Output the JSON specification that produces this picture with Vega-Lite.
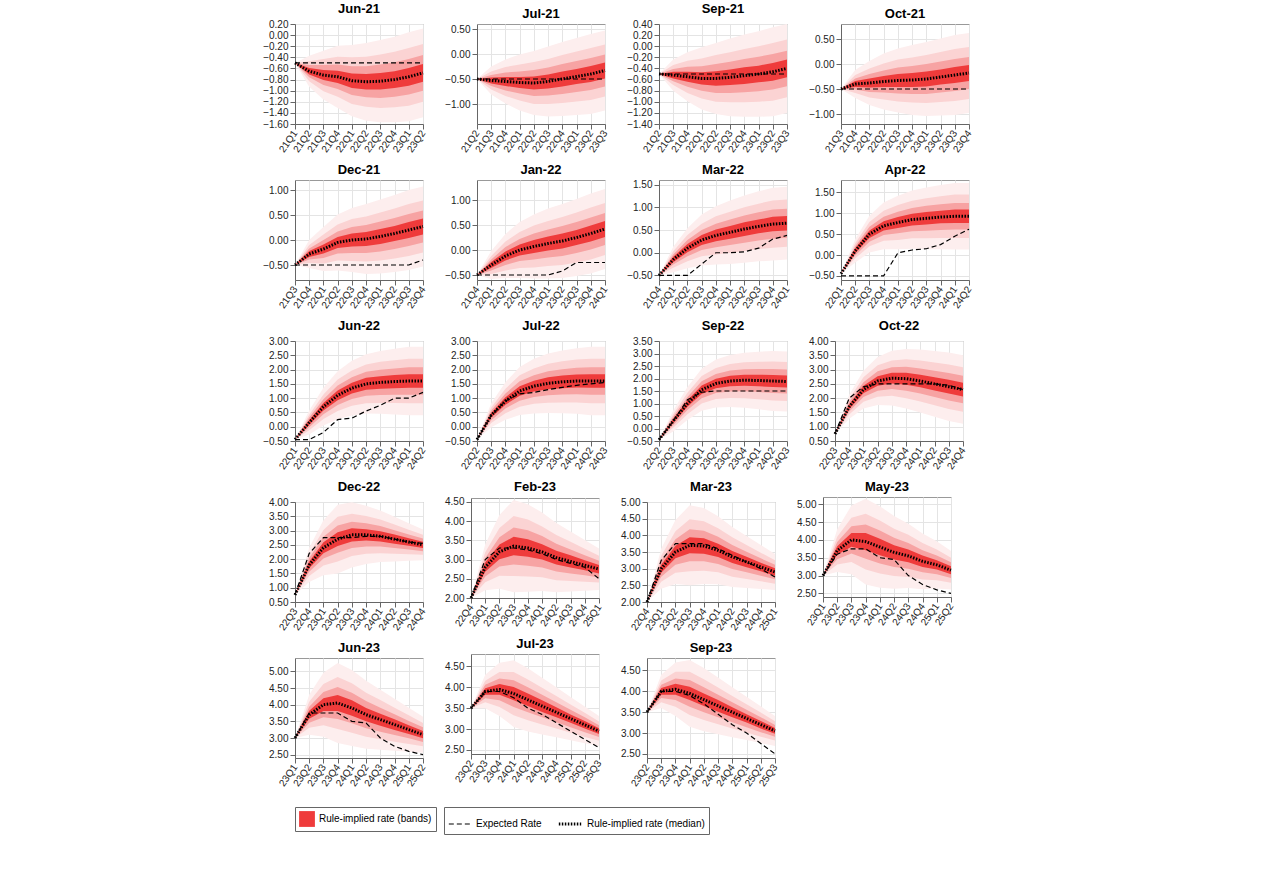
{
  "$schema": "https://vega.github.io/schema/vega-lite/v6.json",
  "padding": {"left": 262, "top": 2, "right": 10, "bottom": 5},
  "config": {
    "font": "Liberation Sans",
    "view": {"stroke": "#999"},
    "axis": {"labelFontSize": 10, "labelColor": "#222", "gridColor": "#e4e4e4", "domainColor": "#666", "tickColor": "#666", "title": null},
    "header": {"labelFontSize": 13, "labelFontWeight": "bold", "labelPadding": 3},
    "legend": {"orient": "bottom", "direction": "horizontal", "labelFontSize": 10, "title": null, "strokeColor": "#666", "padding": 4, "symbolSize": 300}
  },
  "data": {"values": [
    {"p":"Jun-21","o":1,"q":"21Q1","m":-0.5,"e":-0.5,"a4":-0.5,"a3":-0.5,"a2":-0.5,"a1":-0.5,"b1":-0.5,"b2":-0.5,"b3":-0.5,"b4":-0.5},
    {"p":"Jun-21","o":1,"q":"21Q2","m":-0.65,"e":-0.5,"a4":-0.93,"a3":-0.83,"a2":-0.76,"a1":-0.71,"b1":-0.59,"b2":-0.54,"b3":-0.47,"b4":-0.37},
    {"p":"Jun-21","o":1,"q":"21Q3","m":-0.72,"e":-0.5,"a4":-1.16,"a3":-1.01,"a2":-0.9,"a1":-0.81,"b1":-0.63,"b2":-0.54,"b3":-0.43,"b4":-0.28},
    {"p":"Jun-21","o":1,"q":"21Q4","m":-0.75,"e":-0.5,"a4":-1.31,"a3":-1.11,"a2":-0.97,"a1":-0.86,"b1":-0.64,"b2":-0.53,"b3":-0.39,"b4":-0.19},
    {"p":"Jun-21","o":1,"q":"22Q1","m":-0.82,"e":-0.5,"a4":-1.46,"a3":-1.24,"a2":-1.08,"a1":-0.95,"b1":-0.69,"b2":-0.56,"b3":-0.4,"b4":-0.18},
    {"p":"Jun-21","o":1,"q":"22Q2","m":-0.84,"e":-0.5,"a4":-1.54,"a3":-1.29,"a2":-1.12,"a1":-0.98,"b1":-0.7,"b2":-0.56,"b3":-0.39,"b4":-0.14},
    {"p":"Jun-21","o":1,"q":"22Q3","m":-0.83,"e":-0.5,"a4":-1.57,"a3":-1.31,"a2":-1.13,"a1":-0.98,"b1":-0.68,"b2":-0.53,"b3":-0.35,"b4":-0.09},
    {"p":"Jun-21","o":1,"q":"22Q4","m":-0.8,"e":-0.5,"a4":-1.57,"a3":-1.3,"a2":-1.11,"a1":-0.95,"b1":-0.65,"b2":-0.49,"b3":-0.3,"b4":-0.03},
    {"p":"Jun-21","o":1,"q":"23Q1","m":-0.75,"e":-0.5,"a4":-1.55,"a3":-1.27,"a2":-1.07,"a1":-0.91,"b1":-0.59,"b2":-0.43,"b3":-0.23,"b4":0.05},
    {"p":"Jun-21","o":1,"q":"23Q2","m":-0.68,"e":-0.5,"a4":-1.48,"a3":-1.2,"a2":-1.0,"a1":-0.84,"b1":-0.52,"b2":-0.36,"b3":-0.16,"b4":0.12},

    {"p":"Jul-21","o":2,"q":"21Q2","m":-0.5,"e":-0.5,"a4":-0.5,"a3":-0.5,"a2":-0.5,"a1":-0.5,"b1":-0.5,"b2":-0.5,"b3":-0.5,"b4":-0.5},
    {"p":"Jul-21","o":2,"q":"21Q3","m":-0.53,"e":-0.5,"a4":-0.81,"a3":-0.71,"a2":-0.64,"a1":-0.59,"b1":-0.47,"b2":-0.42,"b3":-0.35,"b4":-0.25},
    {"p":"Jul-21","o":2,"q":"21Q4","m":-0.55,"e":-0.5,"a4":-0.99,"a3":-0.84,"a2":-0.73,"a1":-0.64,"b1":-0.46,"b2":-0.37,"b3":-0.26,"b4":-0.11},
    {"p":"Jul-21","o":2,"q":"22Q1","m":-0.57,"e":-0.5,"a4":-1.13,"a3":-0.93,"a2":-0.79,"a1":-0.68,"b1":-0.46,"b2":-0.35,"b3":-0.21,"b4":-0.01},
    {"p":"Jul-21","o":2,"q":"22Q2","m":-0.58,"e":-0.5,"a4":-1.22,"a3":-1.0,"a2":-0.84,"a1":-0.71,"b1":-0.45,"b2":-0.32,"b3":-0.16,"b4":0.06},
    {"p":"Jul-21","o":2,"q":"22Q3","m":-0.55,"e":-0.5,"a4":-1.25,"a3":-1.0,"a2":-0.83,"a1":-0.69,"b1":-0.41,"b2":-0.27,"b3":-0.1,"b4":0.15},
    {"p":"Jul-21","o":2,"q":"22Q4","m":-0.5,"e":-0.5,"a4":-1.24,"a3":-0.98,"a2":-0.8,"a1":-0.65,"b1":-0.35,"b2":-0.2,"b3":-0.02,"b4":0.24},
    {"p":"Jul-21","o":2,"q":"23Q1","m":-0.45,"e":-0.5,"a4":-1.22,"a3":-0.95,"a2":-0.76,"a1":-0.6,"b1":-0.3,"b2":-0.14,"b3":0.05,"b4":0.32},
    {"p":"Jul-21","o":2,"q":"23Q2","m":-0.4,"e":-0.5,"a4":-1.2,"a3":-0.92,"a2":-0.72,"a1":-0.56,"b1":-0.24,"b2":-0.08,"b3":0.12,"b4":0.4},
    {"p":"Jul-21","o":2,"q":"23Q3","m":-0.33,"e":-0.5,"a4":-1.13,"a3":-0.85,"a2":-0.65,"a1":-0.49,"b1":-0.17,"b2":-0.01,"b3":0.19,"b4":0.47},

    {"p":"Sep-21","o":3,"q":"21Q2","m":-0.5,"e":-0.5,"a4":-0.5,"a3":-0.5,"a2":-0.5,"a1":-0.5,"b1":-0.5,"b2":-0.5,"b3":-0.5,"b4":-0.5},
    {"p":"Sep-21","o":3,"q":"21Q3","m":-0.52,"e":-0.5,"a4":-0.8,"a3":-0.7,"a2":-0.63,"a1":-0.58,"b1":-0.46,"b2":-0.41,"b3":-0.34,"b4":-0.24},
    {"p":"Sep-21","o":3,"q":"21Q4","m":-0.55,"e":-0.5,"a4":-0.99,"a3":-0.84,"a2":-0.73,"a1":-0.64,"b1":-0.46,"b2":-0.37,"b3":-0.26,"b4":-0.11},
    {"p":"Sep-21","o":3,"q":"22Q1","m":-0.58,"e":-0.5,"a4":-1.14,"a3":-0.94,"a2":-0.8,"a1":-0.69,"b1":-0.47,"b2":-0.36,"b3":-0.22,"b4":-0.02},
    {"p":"Sep-21","o":3,"q":"22Q2","m":-0.58,"e":-0.5,"a4":-1.22,"a3":-1.0,"a2":-0.84,"a1":-0.71,"b1":-0.45,"b2":-0.32,"b3":-0.16,"b4":0.06},
    {"p":"Sep-21","o":3,"q":"22Q3","m":-0.56,"e":-0.5,"a4":-1.26,"a3":-1.01,"a2":-0.84,"a1":-0.7,"b1":-0.42,"b2":-0.28,"b3":-0.11,"b4":0.14},
    {"p":"Sep-21","o":3,"q":"22Q4","m":-0.53,"e":-0.5,"a4":-1.27,"a3":-1.01,"a2":-0.83,"a1":-0.68,"b1":-0.38,"b2":-0.23,"b3":-0.05,"b4":0.21},
    {"p":"Sep-21","o":3,"q":"23Q1","m":-0.5,"e":-0.5,"a4":-1.27,"a3":-1.0,"a2":-0.81,"a1":-0.65,"b1":-0.35,"b2":-0.19,"b3":0.0,"b4":0.27},
    {"p":"Sep-21","o":3,"q":"23Q2","m":-0.46,"e":-0.5,"a4":-1.26,"a3":-0.98,"a2":-0.78,"a1":-0.62,"b1":-0.3,"b2":-0.14,"b3":0.06,"b4":0.34},
    {"p":"Sep-21","o":3,"q":"23Q3","m":-0.4,"e":-0.5,"a4":-1.2,"a3":-0.92,"a2":-0.72,"a1":-0.56,"b1":-0.24,"b2":-0.08,"b3":0.12,"b4":0.4},

    {"p":"Oct-21","o":4,"q":"21Q3","m":-0.5,"e":-0.5,"a4":-0.5,"a3":-0.5,"a2":-0.5,"a1":-0.5,"b1":-0.5,"b2":-0.5,"b3":-0.5,"b4":-0.5},
    {"p":"Oct-21","o":4,"q":"21Q4","m":-0.4,"e":-0.5,"a4":-0.68,"a3":-0.58,"a2":-0.51,"a1":-0.46,"b1":-0.34,"b2":-0.29,"b3":-0.22,"b4":-0.12},
    {"p":"Oct-21","o":4,"q":"22Q1","m":-0.38,"e":-0.5,"a4":-0.82,"a3":-0.67,"a2":-0.56,"a1":-0.47,"b1":-0.29,"b2":-0.2,"b3":-0.09,"b4":0.06},
    {"p":"Oct-21","o":4,"q":"22Q2","m":-0.35,"e":-0.5,"a4":-0.91,"a3":-0.71,"a2":-0.57,"a1":-0.46,"b1":-0.24,"b2":-0.13,"b3":0.01,"b4":0.21},
    {"p":"Oct-21","o":4,"q":"22Q3","m":-0.33,"e":-0.5,"a4":-0.97,"a3":-0.75,"a2":-0.59,"a1":-0.46,"b1":-0.2,"b2":-0.07,"b3":0.09,"b4":0.31},
    {"p":"Oct-21","o":4,"q":"22Q4","m":-0.32,"e":-0.5,"a4":-1.02,"a3":-0.77,"a2":-0.6,"a1":-0.46,"b1":-0.18,"b2":-0.04,"b3":0.13,"b4":0.38},
    {"p":"Oct-21","o":4,"q":"23Q1","m":-0.3,"e":-0.5,"a4":-1.04,"a3":-0.78,"a2":-0.6,"a1":-0.45,"b1":-0.15,"b2":0.0,"b3":0.18,"b4":0.44},
    {"p":"Oct-21","o":4,"q":"23Q2","m":-0.26,"e":-0.5,"a4":-1.03,"a3":-0.76,"a2":-0.57,"a1":-0.41,"b1":-0.11,"b2":0.05,"b3":0.24,"b4":0.51},
    {"p":"Oct-21","o":4,"q":"23Q3","m":-0.22,"e":-0.5,"a4":-1.02,"a3":-0.74,"a2":-0.54,"a1":-0.38,"b1":-0.06,"b2":0.1,"b3":0.3,"b4":0.58},
    {"p":"Oct-21","o":4,"q":"23Q4","m":-0.18,"e":-0.5,"a4":-0.98,"a3":-0.7,"a2":-0.5,"a1":-0.34,"b1":-0.02,"b2":0.14,"b3":0.34,"b4":0.62},

    {"p":"Dec-21","o":5,"q":"21Q3","m":-0.5,"e":-0.5,"a4":-0.5,"a3":-0.5,"a2":-0.5,"a1":-0.5,"b1":-0.5,"b2":-0.5,"b3":-0.5,"b4":-0.5},
    {"p":"Dec-21","o":5,"q":"21Q4","m":-0.28,"e":-0.5,"a4":-0.56,"a3":-0.46,"a2":-0.39,"a1":-0.34,"b1":-0.22,"b2":-0.17,"b3":-0.1,"b4":0.0},
    {"p":"Dec-21","o":5,"q":"22Q1","m":-0.18,"e":-0.5,"a4":-0.62,"a3":-0.47,"a2":-0.36,"a1":-0.27,"b1":-0.09,"b2":0.0,"b3":0.11,"b4":0.26},
    {"p":"Dec-21","o":5,"q":"22Q2","m":-0.05,"e":-0.5,"a4":-0.61,"a3":-0.41,"a2":-0.27,"a1":-0.16,"b1":0.06,"b2":0.17,"b3":0.31,"b4":0.51},
    {"p":"Dec-21","o":5,"q":"22Q3","m":0.0,"e":-0.5,"a4":-0.64,"a3":-0.42,"a2":-0.26,"a1":-0.13,"b1":0.13,"b2":0.26,"b3":0.42,"b4":0.64},
    {"p":"Dec-21","o":5,"q":"22Q4","m":0.02,"e":-0.5,"a4":-0.68,"a3":-0.43,"a2":-0.26,"a1":-0.12,"b1":0.16,"b2":0.3,"b3":0.47,"b4":0.72},
    {"p":"Dec-21","o":5,"q":"23Q1","m":0.07,"e":-0.5,"a4":-0.67,"a3":-0.41,"a2":-0.23,"a1":-0.08,"b1":0.22,"b2":0.37,"b3":0.55,"b4":0.81},
    {"p":"Dec-21","o":5,"q":"23Q2","m":0.13,"e":-0.5,"a4":-0.64,"a3":-0.37,"a2":-0.18,"a1":-0.02,"b1":0.28,"b2":0.44,"b3":0.63,"b4":0.9},
    {"p":"Dec-21","o":5,"q":"23Q3","m":0.2,"e":-0.5,"a4":-0.6,"a3":-0.32,"a2":-0.12,"a1":0.04,"b1":0.36,"b2":0.52,"b3":0.72,"b4":1.0},
    {"p":"Dec-21","o":5,"q":"23Q4","m":0.27,"e":-0.4,"a4":-0.53,"a3":-0.25,"a2":-0.05,"a1":0.11,"b1":0.43,"b2":0.59,"b3":0.79,"b4":1.07},

    {"p":"Jan-22","o":6,"q":"21Q4","m":-0.5,"e":-0.5,"a4":-0.5,"a3":-0.5,"a2":-0.5,"a1":-0.5,"b1":-0.5,"b2":-0.5,"b3":-0.5,"b4":-0.5},
    {"p":"Jan-22","o":6,"q":"22Q1","m":-0.3,"e":-0.5,"a4":-0.58,"a3":-0.48,"a2":-0.41,"a1":-0.36,"b1":-0.24,"b2":-0.19,"b3":-0.12,"b4":-0.02},
    {"p":"Jan-22","o":6,"q":"22Q2","m":-0.12,"e":-0.5,"a4":-0.56,"a3":-0.41,"a2":-0.3,"a1":-0.21,"b1":-0.03,"b2":0.06,"b3":0.17,"b4":0.32},
    {"p":"Jan-22","o":6,"q":"22Q3","m":0.0,"e":-0.5,"a4":-0.56,"a3":-0.36,"a2":-0.22,"a1":-0.11,"b1":0.11,"b2":0.22,"b3":0.36,"b4":0.56},
    {"p":"Jan-22","o":6,"q":"22Q4","m":0.07,"e":-0.5,"a4":-0.57,"a3":-0.35,"a2":-0.19,"a1":-0.06,"b1":0.2,"b2":0.33,"b3":0.49,"b4":0.71},
    {"p":"Jan-22","o":6,"q":"23Q1","m":0.13,"e":-0.5,"a4":-0.57,"a3":-0.32,"a2":-0.15,"a1":-0.01,"b1":0.27,"b2":0.41,"b3":0.58,"b4":0.83},
    {"p":"Jan-22","o":6,"q":"23Q2","m":0.18,"e":-0.42,"a4":-0.56,"a3":-0.3,"a2":-0.12,"a1":0.03,"b1":0.33,"b2":0.48,"b3":0.66,"b4":0.92},
    {"p":"Jan-22","o":6,"q":"23Q3","m":0.25,"e":-0.25,"a4":-0.52,"a3":-0.25,"a2":-0.06,"a1":0.1,"b1":0.4,"b2":0.56,"b3":0.75,"b4":1.02},
    {"p":"Jan-22","o":6,"q":"23Q4","m":0.33,"e":-0.25,"a4":-0.47,"a3":-0.19,"a2":0.01,"a1":0.17,"b1":0.49,"b2":0.65,"b3":0.85,"b4":1.13},
    {"p":"Jan-22","o":6,"q":"24Q1","m":0.42,"e":-0.25,"a4":-0.38,"a3":-0.1,"a2":0.1,"a1":0.26,"b1":0.58,"b2":0.74,"b3":0.94,"b4":1.22},

    {"p":"Mar-22","o":7,"q":"21Q4","m":-0.5,"e":-0.5,"a4":-0.5,"a3":-0.5,"a2":-0.5,"a1":-0.5,"b1":-0.5,"b2":-0.5,"b3":-0.5,"b4":-0.5},
    {"p":"Mar-22","o":7,"q":"22Q1","m":-0.15,"e":-0.5,"a4":-0.43,"a3":-0.33,"a2":-0.26,"a1":-0.21,"b1":-0.09,"b2":-0.04,"b3":0.03,"b4":0.13},
    {"p":"Mar-22","o":7,"q":"22Q2","m":0.1,"e":-0.5,"a4":-0.34,"a3":-0.19,"a2":-0.08,"a1":0.01,"b1":0.19,"b2":0.28,"b3":0.39,"b4":0.54},
    {"p":"Mar-22","o":7,"q":"22Q3","m":0.28,"e":-0.25,"a4":-0.28,"a3":-0.08,"a2":0.06,"a1":0.17,"b1":0.39,"b2":0.5,"b3":0.64,"b4":0.84},
    {"p":"Mar-22","o":7,"q":"22Q4","m":0.38,"e":0.0,"a4":-0.26,"a3":-0.04,"a2":0.12,"a1":0.25,"b1":0.51,"b2":0.64,"b3":0.8,"b4":1.02},
    {"p":"Mar-22","o":7,"q":"23Q1","m":0.45,"e":0.0,"a4":-0.25,"a3":0.0,"a2":0.17,"a1":0.31,"b1":0.59,"b2":0.73,"b3":0.9,"b4":1.15},
    {"p":"Mar-22","o":7,"q":"23Q2","m":0.52,"e":0.02,"a4":-0.22,"a3":0.04,"a2":0.22,"a1":0.37,"b1":0.67,"b2":0.82,"b3":1.0,"b4":1.26},
    {"p":"Mar-22","o":7,"q":"23Q3","m":0.58,"e":0.1,"a4":-0.19,"a3":0.08,"a2":0.27,"a1":0.43,"b1":0.73,"b2":0.89,"b3":1.08,"b4":1.35},
    {"p":"Mar-22","o":7,"q":"23Q4","m":0.63,"e":0.3,"a4":-0.17,"a3":0.11,"a2":0.31,"a1":0.47,"b1":0.79,"b2":0.95,"b3":1.15,"b4":1.43},
    {"p":"Mar-22","o":7,"q":"24Q1","m":0.65,"e":0.38,"a4":-0.15,"a3":0.13,"a2":0.33,"a1":0.49,"b1":0.81,"b2":0.97,"b3":1.17,"b4":1.45},

    {"p":"Apr-22","o":8,"q":"22Q1","m":-0.45,"e":-0.5,"a4":-0.45,"a3":-0.45,"a2":-0.45,"a1":-0.45,"b1":-0.45,"b2":-0.45,"b3":-0.45,"b4":-0.45},
    {"p":"Apr-22","o":8,"q":"22Q2","m":0.1,"e":-0.5,"a4":-0.18,"a3":-0.08,"a2":-0.01,"a1":0.04,"b1":0.16,"b2":0.21,"b3":0.28,"b4":0.38},
    {"p":"Apr-22","o":8,"q":"22Q3","m":0.5,"e":-0.5,"a4":0.06,"a3":0.21,"a2":0.32,"a1":0.41,"b1":0.59,"b2":0.68,"b3":0.79,"b4":0.94},
    {"p":"Apr-22","o":8,"q":"22Q4","m":0.7,"e":-0.5,"a4":0.14,"a3":0.34,"a2":0.48,"a1":0.59,"b1":0.81,"b2":0.92,"b3":1.06,"b4":1.26},
    {"p":"Apr-22","o":8,"q":"23Q1","m":0.78,"e":0.05,"a4":0.14,"a3":0.36,"a2":0.52,"a1":0.65,"b1":0.91,"b2":1.04,"b3":1.2,"b4":1.42},
    {"p":"Apr-22","o":8,"q":"23Q2","m":0.85,"e":0.12,"a4":0.15,"a3":0.4,"a2":0.57,"a1":0.71,"b1":0.99,"b2":1.13,"b3":1.3,"b4":1.55},
    {"p":"Apr-22","o":8,"q":"23Q3","m":0.88,"e":0.15,"a4":0.14,"a3":0.4,"a2":0.58,"a1":0.73,"b1":1.03,"b2":1.18,"b3":1.36,"b4":1.62},
    {"p":"Apr-22","o":8,"q":"23Q4","m":0.91,"e":0.25,"a4":0.14,"a3":0.41,"a2":0.6,"a1":0.76,"b1":1.06,"b2":1.22,"b3":1.41,"b4":1.68},
    {"p":"Apr-22","o":8,"q":"24Q1","m":0.93,"e":0.45,"a4":0.13,"a3":0.41,"a2":0.61,"a1":0.77,"b1":1.09,"b2":1.25,"b3":1.45,"b4":1.73},
    {"p":"Apr-22","o":8,"q":"24Q2","m":0.93,"e":0.62,"a4":0.13,"a3":0.41,"a2":0.61,"a1":0.77,"b1":1.09,"b2":1.25,"b3":1.45,"b4":1.73},

    {"p":"Jun-22","o":9,"q":"22Q1","m":-0.45,"e":-0.45,"a4":-0.45,"a3":-0.45,"a2":-0.45,"a1":-0.45,"b1":-0.45,"b2":-0.45,"b3":-0.45,"b4":-0.45},
    {"p":"Jun-22","o":9,"q":"22Q2","m":0.15,"e":-0.45,"a4":-0.27,"a3":-0.12,"a2":-0.02,"a1":0.07,"b1":0.23,"b2":0.32,"b3":0.42,"b4":0.57},
    {"p":"Jun-22","o":9,"q":"22Q3","m":0.7,"e":-0.2,"a4":0.04,"a3":0.27,"a2":0.44,"a1":0.57,"b1":0.83,"b2":0.96,"b3":1.13,"b4":1.36},
    {"p":"Jun-22","o":9,"q":"22Q4","m":1.1,"e":0.25,"a4":0.26,"a3":0.55,"a2":0.76,"a1":0.93,"b1":1.27,"b2":1.44,"b3":1.65,"b4":1.94},
    {"p":"Jun-22","o":9,"q":"23Q1","m":1.35,"e":0.3,"a4":0.39,"a3":0.73,"a2":0.97,"a1":1.16,"b1":1.54,"b2":1.73,"b3":1.97,"b4":2.31},
    {"p":"Jun-22","o":9,"q":"23Q2","m":1.5,"e":0.55,"a4":0.46,"a3":0.82,"a2":1.08,"a1":1.29,"b1":1.71,"b2":1.92,"b3":2.18,"b4":2.54},
    {"p":"Jun-22","o":9,"q":"23Q3","m":1.55,"e":0.75,"a4":0.45,"a3":0.83,"a2":1.11,"a1":1.33,"b1":1.77,"b2":1.99,"b3":2.27,"b4":2.65},
    {"p":"Jun-22","o":9,"q":"23Q4","m":1.58,"e":1.0,"a4":0.43,"a3":0.83,"a2":1.12,"a1":1.35,"b1":1.81,"b2":2.04,"b3":2.33,"b4":2.73},
    {"p":"Jun-22","o":9,"q":"24Q1","m":1.6,"e":1.0,"a4":0.4,"a3":0.82,"a2":1.12,"a1":1.36,"b1":1.84,"b2":2.08,"b3":2.38,"b4":2.8},
    {"p":"Jun-22","o":9,"q":"24Q2","m":1.6,"e":1.2,"a4":0.4,"a3":0.82,"a2":1.12,"a1":1.36,"b1":1.84,"b2":2.08,"b3":2.38,"b4":2.8},

    {"p":"Jul-22","o":10,"q":"22Q2","m":-0.45,"e":-0.45,"a4":-0.45,"a3":-0.45,"a2":-0.45,"a1":-0.45,"b1":-0.45,"b2":-0.45,"b3":-0.45,"b4":-0.45},
    {"p":"Jul-22","o":10,"q":"22Q3","m":0.4,"e":0.4,"a4":-0.02,"a3":0.13,"a2":0.23,"a1":0.32,"b1":0.48,"b2":0.57,"b3":0.67,"b4":0.82},
    {"p":"Jul-22","o":10,"q":"22Q4","m":0.9,"e":0.9,"a4":0.24,"a3":0.47,"a2":0.64,"a1":0.77,"b1":1.03,"b2":1.16,"b3":1.33,"b4":1.56},
    {"p":"Jul-22","o":10,"q":"23Q1","m":1.25,"e":1.15,"a4":0.41,"a3":0.7,"a2":0.91,"a1":1.08,"b1":1.42,"b2":1.59,"b3":1.8,"b4":2.09},
    {"p":"Jul-22","o":10,"q":"23Q2","m":1.42,"e":1.2,"a4":0.46,"a3":0.8,"a2":1.04,"a1":1.23,"b1":1.61,"b2":1.8,"b3":2.04,"b4":2.38},
    {"p":"Jul-22","o":10,"q":"23Q3","m":1.52,"e":1.3,"a4":0.48,"a3":0.84,"a2":1.1,"a1":1.31,"b1":1.73,"b2":1.94,"b3":2.2,"b4":2.56},
    {"p":"Jul-22","o":10,"q":"23Q4","m":1.57,"e":1.38,"a4":0.47,"a3":0.85,"a2":1.13,"a1":1.35,"b1":1.79,"b2":2.01,"b3":2.29,"b4":2.67},
    {"p":"Jul-22","o":10,"q":"24Q1","m":1.6,"e":1.45,"a4":0.45,"a3":0.85,"a2":1.14,"a1":1.37,"b1":1.83,"b2":2.06,"b3":2.35,"b4":2.75},
    {"p":"Jul-22","o":10,"q":"24Q2","m":1.6,"e":1.5,"a4":0.4,"a3":0.82,"a2":1.12,"a1":1.36,"b1":1.84,"b2":2.08,"b3":2.38,"b4":2.8},
    {"p":"Jul-22","o":10,"q":"24Q3","m":1.6,"e":1.55,"a4":0.4,"a3":0.82,"a2":1.12,"a1":1.36,"b1":1.84,"b2":2.08,"b3":2.38,"b4":2.8},

    {"p":"Sep-22","o":11,"q":"22Q2","m":-0.45,"e":-0.45,"a4":-0.45,"a3":-0.45,"a2":-0.45,"a1":-0.45,"b1":-0.45,"b2":-0.45,"b3":-0.45,"b4":-0.45},
    {"p":"Sep-22","o":11,"q":"22Q3","m":0.3,"e":0.3,"a4":-0.12,"a3":0.03,"a2":0.13,"a1":0.22,"b1":0.38,"b2":0.47,"b3":0.57,"b4":0.72},
    {"p":"Sep-22","o":11,"q":"22Q4","m":1.0,"e":1.15,"a4":0.34,"a3":0.57,"a2":0.74,"a1":0.87,"b1":1.13,"b2":1.26,"b3":1.43,"b4":1.66},
    {"p":"Sep-22","o":11,"q":"23Q1","m":1.55,"e":1.45,"a4":0.71,"a3":1.0,"a2":1.21,"a1":1.38,"b1":1.72,"b2":1.89,"b3":2.1,"b4":2.39},
    {"p":"Sep-22","o":11,"q":"23Q2","m":1.8,"e":1.5,"a4":0.84,"a3":1.18,"a2":1.42,"a1":1.61,"b1":1.99,"b2":2.18,"b3":2.42,"b4":2.76},
    {"p":"Sep-22","o":11,"q":"23Q3","m":1.9,"e":1.5,"a4":0.86,"a3":1.22,"a2":1.48,"a1":1.69,"b1":2.11,"b2":2.32,"b3":2.58,"b4":2.94},
    {"p":"Sep-22","o":11,"q":"23Q4","m":1.93,"e":1.5,"a4":0.83,"a3":1.21,"a2":1.49,"a1":1.71,"b1":2.15,"b2":2.37,"b3":2.65,"b4":3.03},
    {"p":"Sep-22","o":11,"q":"24Q1","m":1.92,"e":1.5,"a4":0.77,"a3":1.17,"a2":1.46,"a1":1.69,"b1":2.15,"b2":2.38,"b3":2.67,"b4":3.07},
    {"p":"Sep-22","o":11,"q":"24Q2","m":1.9,"e":1.5,"a4":0.7,"a3":1.12,"a2":1.42,"a1":1.66,"b1":2.14,"b2":2.38,"b3":2.68,"b4":3.1},
    {"p":"Sep-22","o":11,"q":"24Q3","m":1.88,"e":1.5,"a4":0.68,"a3":1.1,"a2":1.4,"a1":1.64,"b1":2.12,"b2":2.36,"b3":2.66,"b4":3.08},

    {"p":"Oct-22","o":12,"q":"22Q3","m":0.75,"e":0.75,"a4":0.75,"a3":0.75,"a2":0.75,"a1":0.75,"b1":0.75,"b2":0.75,"b3":0.75,"b4":0.75},
    {"p":"Oct-22","o":12,"q":"22Q4","m":1.7,"e":2.0,"a4":1.28,"a3":1.43,"a2":1.53,"a1":1.62,"b1":1.78,"b2":1.87,"b3":1.97,"b4":2.12},
    {"p":"Oct-22","o":12,"q":"23Q1","m":2.3,"e":2.4,"a4":1.64,"a3":1.87,"a2":2.04,"a1":2.17,"b1":2.43,"b2":2.56,"b3":2.73,"b4":2.96},
    {"p":"Oct-22","o":12,"q":"23Q2","m":2.6,"e":2.5,"a4":1.76,"a3":2.05,"a2":2.26,"a1":2.43,"b1":2.77,"b2":2.94,"b3":3.15,"b4":3.44},
    {"p":"Oct-22","o":12,"q":"23Q3","m":2.7,"e":2.5,"a4":1.74,"a3":2.08,"a2":2.32,"a1":2.51,"b1":2.89,"b2":3.08,"b3":3.32,"b4":3.66},
    {"p":"Oct-22","o":12,"q":"23Q4","m":2.68,"e":2.5,"a4":1.64,"a3":2.0,"a2":2.26,"a1":2.47,"b1":2.89,"b2":3.1,"b3":3.36,"b4":3.72},
    {"p":"Oct-22","o":12,"q":"24Q1","m":2.6,"e":2.5,"a4":1.5,"a3":1.88,"a2":2.16,"a1":2.38,"b1":2.82,"b2":3.04,"b3":3.32,"b4":3.7},
    {"p":"Oct-22","o":12,"q":"24Q2","m":2.5,"e":2.5,"a4":1.35,"a3":1.75,"a2":2.04,"a1":2.27,"b1":2.73,"b2":2.96,"b3":3.25,"b4":3.65},
    {"p":"Oct-22","o":12,"q":"24Q3","m":2.4,"e":2.45,"a4":1.2,"a3":1.62,"a2":1.92,"a1":2.16,"b1":2.64,"b2":2.88,"b3":3.18,"b4":3.6},
    {"p":"Oct-22","o":12,"q":"24Q4","m":2.3,"e":2.3,"a4":1.1,"a3":1.52,"a2":1.82,"a1":2.06,"b1":2.54,"b2":2.78,"b3":3.08,"b4":3.5},

    {"p":"Dec-22","o":13,"q":"22Q3","m":0.75,"e":0.75,"a4":0.75,"a3":0.75,"a2":0.75,"a1":0.75,"b1":0.75,"b2":0.75,"b3":0.75,"b4":0.75},
    {"p":"Dec-22","o":13,"q":"22Q4","m":1.8,"e":2.2,"a4":1.2,"a3":1.41,"a2":1.56,"a1":1.68,"b1":1.92,"b2":2.04,"b3":2.19,"b4":2.4},
    {"p":"Dec-22","o":13,"q":"23Q1","m":2.4,"e":2.75,"a4":1.44,"a3":1.78,"a2":2.02,"a1":2.21,"b1":2.59,"b2":2.78,"b3":3.02,"b4":3.36},
    {"p":"Dec-22","o":13,"q":"23Q2","m":2.7,"e":2.75,"a4":1.5,"a3":1.92,"a2":2.22,"a1":2.46,"b1":2.94,"b2":3.18,"b3":3.48,"b4":3.9},
    {"p":"Dec-22","o":13,"q":"23Q3","m":2.85,"e":2.75,"a4":1.71,"a3":2.11,"a2":2.39,"a1":2.62,"b1":3.08,"b2":3.31,"b3":3.59,"b4":3.99},
    {"p":"Dec-22","o":13,"q":"23Q4","m":2.85,"e":2.8,"a4":1.83,"a3":2.19,"a2":2.44,"a1":2.65,"b1":3.05,"b2":3.26,"b3":3.51,"b4":3.87},
    {"p":"Dec-22","o":13,"q":"24Q1","m":2.8,"e":2.8,"a4":1.9,"a3":2.21,"a2":2.44,"a1":2.62,"b1":2.98,"b2":3.16,"b3":3.39,"b4":3.7},
    {"p":"Dec-22","o":13,"q":"24Q2","m":2.7,"e":2.7,"a4":1.92,"a3":2.19,"a2":2.39,"a1":2.54,"b1":2.86,"b2":3.01,"b3":3.21,"b4":3.48},
    {"p":"Dec-22","o":13,"q":"24Q3","m":2.6,"e":2.6,"a4":1.94,"a3":2.17,"a2":2.34,"a1":2.47,"b1":2.73,"b2":2.86,"b3":3.03,"b4":3.26},
    {"p":"Dec-22","o":13,"q":"24Q4","m":2.5,"e":2.55,"a4":1.96,"a3":2.15,"a2":2.28,"a1":2.39,"b1":2.61,"b2":2.72,"b3":2.85,"b4":3.04},

    {"p":"Feb-23","o":14,"q":"22Q4","m":2.0,"e":2.0,"a4":2.0,"a3":2.0,"a2":2.0,"a1":2.0,"b1":2.0,"b2":2.0,"b3":2.0,"b4":2.0},
    {"p":"Feb-23","o":14,"q":"23Q1","m":2.8,"e":3.0,"a4":2.2,"a3":2.41,"a2":2.56,"a1":2.68,"b1":2.92,"b2":3.04,"b3":3.19,"b4":3.4},
    {"p":"Feb-23","o":14,"q":"23Q2","m":3.2,"e":3.3,"a4":2.24,"a3":2.58,"a2":2.82,"a1":3.01,"b1":3.39,"b2":3.58,"b3":3.82,"b4":4.16},
    {"p":"Feb-23","o":14,"q":"23Q3","m":3.35,"e":3.3,"a4":2.15,"a3":2.57,"a2":2.87,"a1":3.11,"b1":3.59,"b2":3.83,"b3":4.13,"b4":4.55},
    {"p":"Feb-23","o":14,"q":"23Q4","m":3.3,"e":3.25,"a4":2.16,"a3":2.56,"a2":2.84,"a1":3.07,"b1":3.53,"b2":3.76,"b3":4.04,"b4":4.44},
    {"p":"Feb-23","o":14,"q":"24Q1","m":3.2,"e":3.15,"a4":2.18,"a3":2.54,"a2":2.79,"a1":3.0,"b1":3.4,"b2":3.61,"b3":3.86,"b4":4.22},
    {"p":"Feb-23","o":14,"q":"24Q2","m":3.05,"e":3.0,"a4":2.15,"a3":2.46,"a2":2.69,"a1":2.87,"b1":3.23,"b2":3.41,"b3":3.64,"b4":3.95},
    {"p":"Feb-23","o":14,"q":"24Q3","m":2.95,"e":2.9,"a4":2.17,"a3":2.44,"a2":2.64,"a1":2.79,"b1":3.11,"b2":3.26,"b3":3.46,"b4":3.73},
    {"p":"Feb-23","o":14,"q":"24Q4","m":2.85,"e":2.8,"a4":2.19,"a3":2.42,"a2":2.59,"a1":2.72,"b1":2.98,"b2":3.11,"b3":3.28,"b4":3.51},
    {"p":"Feb-23","o":14,"q":"25Q1","m":2.75,"e":2.5,"a4":2.21,"a3":2.4,"a2":2.53,"a1":2.64,"b1":2.86,"b2":2.97,"b3":3.1,"b4":3.29},

    {"p":"Mar-23","o":15,"q":"22Q4","m":2.0,"e":2.0,"a4":2.0,"a3":2.0,"a2":2.0,"a1":2.0,"b1":2.0,"b2":2.0,"b3":2.0,"b4":2.0},
    {"p":"Mar-23","o":15,"q":"23Q1","m":3.0,"e":3.25,"a4":2.4,"a3":2.61,"a2":2.76,"a1":2.88,"b1":3.12,"b2":3.24,"b3":3.39,"b4":3.6},
    {"p":"Mar-23","o":15,"q":"23Q2","m":3.5,"e":3.75,"a4":2.54,"a3":2.88,"a2":3.12,"a1":3.31,"b1":3.69,"b2":3.88,"b3":4.12,"b4":4.46},
    {"p":"Mar-23","o":15,"q":"23Q3","m":3.7,"e":3.75,"a4":2.5,"a3":2.92,"a2":3.22,"a1":3.46,"b1":3.94,"b2":4.18,"b3":4.48,"b4":4.9},
    {"p":"Mar-23","o":15,"q":"23Q4","m":3.68,"e":3.75,"a4":2.54,"a3":2.94,"a2":3.22,"a1":3.45,"b1":3.91,"b2":4.14,"b3":4.42,"b4":4.82},
    {"p":"Mar-23","o":15,"q":"24Q1","m":3.55,"e":3.6,"a4":2.53,"a3":2.89,"a2":3.14,"a1":3.35,"b1":3.75,"b2":3.96,"b3":4.21,"b4":4.57},
    {"p":"Mar-23","o":15,"q":"24Q2","m":3.35,"e":3.4,"a4":2.45,"a3":2.76,"a2":2.99,"a1":3.17,"b1":3.53,"b2":3.71,"b3":3.94,"b4":4.25},
    {"p":"Mar-23","o":15,"q":"24Q3","m":3.2,"e":3.2,"a4":2.42,"a3":2.69,"a2":2.89,"a1":3.04,"b1":3.36,"b2":3.51,"b3":3.71,"b4":3.98},
    {"p":"Mar-23","o":15,"q":"24Q4","m":3.05,"e":3.0,"a4":2.39,"a3":2.62,"a2":2.79,"a1":2.92,"b1":3.18,"b2":3.31,"b3":3.48,"b4":3.71},
    {"p":"Mar-23","o":15,"q":"25Q1","m":2.9,"e":2.75,"a4":2.36,"a3":2.55,"a2":2.68,"a1":2.79,"b1":3.01,"b2":3.12,"b3":3.25,"b4":3.44},

    {"p":"May-23","o":16,"q":"23Q1","m":3.0,"e":3.0,"a4":3.0,"a3":3.0,"a2":3.0,"a1":3.0,"b1":3.0,"b2":3.0,"b3":3.0,"b4":3.0},
    {"p":"May-23","o":16,"q":"23Q2","m":3.7,"e":3.6,"a4":3.1,"a3":3.31,"a2":3.46,"a1":3.58,"b1":3.82,"b2":3.94,"b3":4.09,"b4":4.3},
    {"p":"May-23","o":16,"q":"23Q3","m":4.0,"e":3.75,"a4":3.04,"a3":3.38,"a2":3.62,"a1":3.81,"b1":4.19,"b2":4.38,"b3":4.62,"b4":4.96},
    {"p":"May-23","o":16,"q":"23Q4","m":3.95,"e":3.75,"a4":2.75,"a3":3.17,"a2":3.47,"a1":3.71,"b1":4.19,"b2":4.43,"b3":4.73,"b4":5.15},
    {"p":"May-23","o":16,"q":"24Q1","m":3.8,"e":3.5,"a4":2.66,"a3":3.06,"a2":3.34,"a1":3.57,"b1":4.03,"b2":4.26,"b3":4.54,"b4":4.94},
    {"p":"May-23","o":16,"q":"24Q2","m":3.65,"e":3.45,"a4":2.63,"a3":2.99,"a2":3.24,"a1":3.45,"b1":3.85,"b2":4.06,"b3":4.31,"b4":4.67},
    {"p":"May-23","o":16,"q":"24Q3","m":3.55,"e":3.0,"a4":2.65,"a3":2.96,"a2":3.19,"a1":3.37,"b1":3.73,"b2":3.91,"b3":4.14,"b4":4.45},
    {"p":"May-23","o":16,"q":"24Q4","m":3.4,"e":2.75,"a4":2.62,"a3":2.89,"a2":3.09,"a1":3.24,"b1":3.56,"b2":3.71,"b3":3.91,"b4":4.18},
    {"p":"May-23","o":16,"q":"25Q1","m":3.3,"e":2.6,"a4":2.64,"a3":2.87,"a2":3.04,"a1":3.17,"b1":3.43,"b2":3.56,"b3":3.73,"b4":3.96},
    {"p":"May-23","o":16,"q":"25Q2","m":3.15,"e":2.5,"a4":2.61,"a3":2.8,"a2":2.93,"a1":3.04,"b1":3.26,"b2":3.37,"b3":3.5,"b4":3.69},

    {"p":"Jun-23","o":17,"q":"23Q1","m":3.0,"e":3.0,"a4":3.0,"a3":3.0,"a2":3.0,"a1":3.0,"b1":3.0,"b2":3.0,"b3":3.0,"b4":3.0},
    {"p":"Jun-23","o":17,"q":"23Q2","m":3.7,"e":3.75,"a4":3.1,"a3":3.31,"a2":3.46,"a1":3.58,"b1":3.82,"b2":3.94,"b3":4.09,"b4":4.3},
    {"p":"Jun-23","o":17,"q":"23Q3","m":4.0,"e":3.75,"a4":3.04,"a3":3.38,"a2":3.62,"a1":3.81,"b1":4.19,"b2":4.38,"b3":4.62,"b4":4.96},
    {"p":"Jun-23","o":17,"q":"23Q4","m":4.05,"e":3.75,"a4":2.85,"a3":3.27,"a2":3.57,"a1":3.81,"b1":4.29,"b2":4.53,"b3":4.83,"b4":5.25},
    {"p":"Jun-23","o":17,"q":"24Q1","m":3.9,"e":3.5,"a4":2.76,"a3":3.16,"a2":3.44,"a1":3.67,"b1":4.13,"b2":4.36,"b3":4.64,"b4":5.04},
    {"p":"Jun-23","o":17,"q":"24Q2","m":3.7,"e":3.45,"a4":2.68,"a3":3.04,"a2":3.29,"a1":3.5,"b1":3.9,"b2":4.11,"b3":4.36,"b4":4.72},
    {"p":"Jun-23","o":17,"q":"24Q3","m":3.55,"e":3.0,"a4":2.65,"a3":2.96,"a2":3.19,"a1":3.37,"b1":3.73,"b2":3.91,"b3":4.14,"b4":4.45},
    {"p":"Jun-23","o":17,"q":"24Q4","m":3.4,"e":2.75,"a4":2.62,"a3":2.89,"a2":3.09,"a1":3.24,"b1":3.56,"b2":3.71,"b3":3.91,"b4":4.18},
    {"p":"Jun-23","o":17,"q":"25Q1","m":3.25,"e":2.6,"a4":2.59,"a3":2.82,"a2":2.99,"a1":3.12,"b1":3.38,"b2":3.51,"b3":3.68,"b4":3.91},
    {"p":"Jun-23","o":17,"q":"25Q2","m":3.1,"e":2.5,"a4":2.56,"a3":2.75,"a2":2.88,"a1":2.99,"b1":3.21,"b2":3.32,"b3":3.45,"b4":3.64},

    {"p":"Jul-23","o":18,"q":"23Q2","m":3.5,"e":3.5,"a4":3.5,"a3":3.5,"a2":3.5,"a1":3.5,"b1":3.5,"b2":3.5,"b3":3.5,"b4":3.5},
    {"p":"Jul-23","o":18,"q":"23Q3","m":3.9,"e":3.9,"a4":3.5,"a3":3.64,"a2":3.74,"a1":3.82,"b1":3.98,"b2":4.06,"b3":4.16,"b4":4.3},
    {"p":"Jul-23","o":18,"q":"23Q4","m":3.95,"e":3.9,"a4":3.31,"a3":3.53,"a2":3.69,"a1":3.82,"b1":4.08,"b2":4.21,"b3":4.37,"b4":4.59},
    {"p":"Jul-23","o":18,"q":"24Q1","m":3.85,"e":3.75,"a4":3.05,"a3":3.33,"a2":3.53,"a1":3.69,"b1":4.01,"b2":4.17,"b3":4.37,"b4":4.65},
    {"p":"Jul-23","o":18,"q":"24Q2","m":3.7,"e":3.5,"a4":2.94,"a3":3.21,"a2":3.4,"a1":3.55,"b1":3.85,"b2":4.0,"b3":4.19,"b4":4.46},
    {"p":"Jul-23","o":18,"q":"24Q3","m":3.55,"e":3.35,"a4":2.87,"a3":3.11,"a2":3.28,"a1":3.41,"b1":3.69,"b2":3.82,"b3":3.99,"b4":4.23},
    {"p":"Jul-23","o":18,"q":"24Q4","m":3.4,"e":3.15,"a4":2.8,"a3":3.01,"a2":3.16,"a1":3.28,"b1":3.52,"b2":3.64,"b3":3.79,"b4":4.0},
    {"p":"Jul-23","o":18,"q":"25Q1","m":3.25,"e":2.95,"a4":2.73,"a3":2.91,"a2":3.04,"a1":3.15,"b1":3.35,"b2":3.46,"b3":3.59,"b4":3.77},
    {"p":"Jul-23","o":18,"q":"25Q2","m":3.1,"e":2.75,"a4":2.66,"a3":2.81,"a2":2.92,"a1":3.01,"b1":3.19,"b2":3.28,"b3":3.39,"b4":3.54},
    {"p":"Jul-23","o":18,"q":"25Q3","m":2.95,"e":2.55,"a4":2.59,"a3":2.72,"a2":2.81,"a1":2.88,"b1":3.02,"b2":3.09,"b3":3.18,"b4":3.31},

    {"p":"Sep-23","o":19,"q":"23Q2","m":3.5,"e":3.5,"a4":3.5,"a3":3.5,"a2":3.5,"a1":3.5,"b1":3.5,"b2":3.5,"b3":3.5,"b4":3.5},
    {"p":"Sep-23","o":19,"q":"23Q3","m":4.0,"e":4.0,"a4":3.6,"a3":3.74,"a2":3.84,"a1":3.92,"b1":4.08,"b2":4.16,"b3":4.26,"b4":4.4},
    {"p":"Sep-23","o":19,"q":"23Q4","m":4.05,"e":4.0,"a4":3.41,"a3":3.63,"a2":3.79,"a1":3.92,"b1":4.18,"b2":4.31,"b3":4.47,"b4":4.69},
    {"p":"Sep-23","o":19,"q":"24Q1","m":3.95,"e":3.9,"a4":3.15,"a3":3.43,"a2":3.63,"a1":3.79,"b1":4.11,"b2":4.27,"b3":4.47,"b4":4.75},
    {"p":"Sep-23","o":19,"q":"24Q2","m":3.8,"e":3.7,"a4":3.04,"a3":3.31,"a2":3.5,"a1":3.65,"b1":3.95,"b2":4.1,"b3":4.29,"b4":4.56},
    {"p":"Sep-23","o":19,"q":"24Q3","m":3.65,"e":3.45,"a4":2.97,"a3":3.21,"a2":3.38,"a1":3.51,"b1":3.79,"b2":3.92,"b3":4.09,"b4":4.33},
    {"p":"Sep-23","o":19,"q":"24Q4","m":3.5,"e":3.2,"a4":2.9,"a3":3.11,"a2":3.26,"a1":3.38,"b1":3.62,"b2":3.74,"b3":3.89,"b4":4.1},
    {"p":"Sep-23","o":19,"q":"25Q1","m":3.35,"e":3.0,"a4":2.83,"a3":3.01,"a2":3.14,"a1":3.25,"b1":3.45,"b2":3.56,"b3":3.69,"b4":3.87},
    {"p":"Sep-23","o":19,"q":"25Q2","m":3.2,"e":2.75,"a4":2.76,"a3":2.91,"a2":3.02,"a1":3.11,"b1":3.29,"b2":3.38,"b3":3.49,"b4":3.64},
    {"p":"Sep-23","o":19,"q":"25Q3","m":3.05,"e":2.5,"a4":2.69,"a3":2.82,"a2":2.91,"a1":2.98,"b1":3.12,"b2":3.19,"b3":3.28,"b4":3.41}
  ]},
  "facet": {"field": "p", "type": "nominal", "sort": {"field": "o"}, "header": {"title": null}},
  "columns": 4,
  "spacing": {"column": 14, "row": 8},
  "resolve": {"scale": {"x": "independent", "y": "independent"}, "axis": {"x": "independent", "y": "independent"}},
  "spec": {
    "width": 128,
    "height": 100,
    "encoding": {
      "x": {"field": "q", "type": "ordinal", "scale": {"type": "point", "padding": 0}, "axis": {"labelAngle": -55, "grid": true, "labelPadding": 2}}
    },
    "layer": [
      {"mark": {"type": "area", "color": "#fdeeee"}, "encoding": {"y": {"field": "a4", "type": "quantitative", "scale": {"zero": false}, "axis": {"format": ".2f", "grid": true, "tickCount": 6}}, "y2": {"field": "b4"}}},
      {"mark": {"type": "area", "color": "#fbd3d3"}, "encoding": {"y": {"field": "a3", "type": "quantitative"}, "y2": {"field": "b3"}}},
      {"mark": {"type": "area", "color": "#f7a3a3"}, "encoding": {"y": {"field": "a2", "type": "quantitative"}, "y2": {"field": "b2"}}},
      {"mark": {"type": "area"}, "encoding": {"y": {"field": "a1", "type": "quantitative"}, "y2": {"field": "b1"}, "fill": {"datum": "Rule-implied rate (bands)", "scale": {"range": ["#ef3b3b"]}, "legend": {"symbolType": "square", "symbolStrokeWidth": 0, "symbolSize": 250}}}},
      {
        "transform": [{"fold": ["e", "m"], "as": ["k", "v"]}],
        "mark": {"type": "line", "color": "black"},
        "encoding": {
          "y": {"field": "v", "type": "quantitative"},
          "detail": {"field": "k"},
          "strokeDash": {"field": "k", "type": "nominal", "scale": {"domain": ["e", "m"], "range": [[5, 3], [1.5, 1.5]]}, "legend": {"labelExpr": "datum.label == 'e' ? 'Expected Rate' : 'Rule-implied rate (median)'", "symbolStrokeColor": "black", "symbolSize": 500}},
          "strokeWidth": {"field": "k", "type": "nominal", "scale": {"domain": ["e", "m"], "range": [1.2, 3]}, "legend": {"labelExpr": "datum.label == 'e' ? 'Expected Rate' : 'Rule-implied rate (median)'"}}
        }
      }
    ]
  }
}
